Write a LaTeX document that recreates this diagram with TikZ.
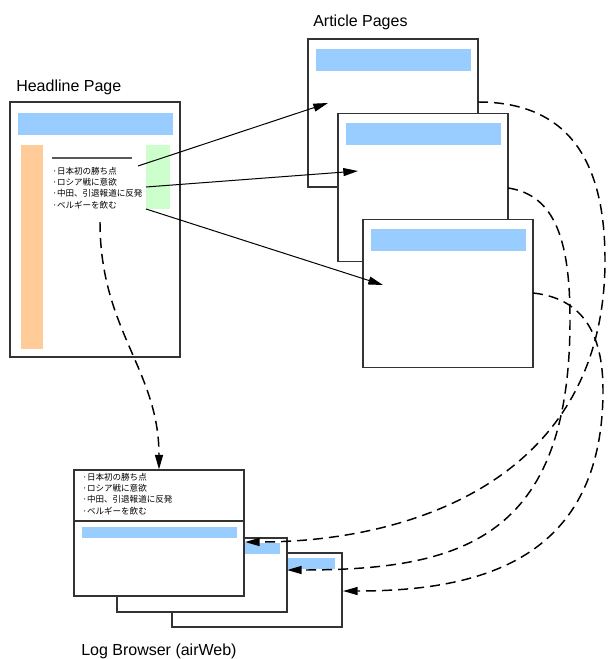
\documentclass[tikz,border=0pt]{standalone}
\usepackage{fontspec}
\setmainfont{Liberation Sans}
\newfontfamily\jpfont{Noto Sans CJK JP}
\usetikzlibrary{arrows.meta,positioning}

\definecolor{barblue}{HTML}{99CCFF}
\definecolor{barorange}{HTML}{FFCC99}
\definecolor{bargreen}{HTML}{CCFFCC}

\tikzset{
    page/.style={draw=black!80, fill=white, line width=0.8pt, inner sep=0pt, minimum width=127.5pt},
    titlebar/.style={fill=barblue, inner sep=0pt, minimum width=116.25pt},
    caption/.style={anchor=base west, inner sep=0pt, font=\fontsize{12}{14}\selectfont},
    headline/.style={anchor=west, inner sep=0pt, font=\jpfont\fontsize{6.4}{8}\selectfont},
    link/.style={-{Triangle[length=11pt,width=6pt]}, line width=0.75pt},
    backlink/.style={link, line width=1.1pt, dash pattern=on 7.5pt off 4.5pt}
}

\begin{document}
\begin{tikzpicture}[x=0.75pt, y=-0.75pt]
    \useasboundingbox (0,0) rectangle (608,659);

    % Headline page
    \node[caption] (headcap) at (16,92) {Headline Page};
    \node[page, minimum height=191.25pt] (head) at (95,229.5) {};
    \node[titlebar, minimum height=16.5pt, below=8.25pt of head.north] (headbar) {};
    \fill[barorange] (21,145) rectangle (43,349);
    \fill[bargreen] (146,145) rectangle (170,209);
    \draw[black!65, line width=1.1pt] (52,158) -- (132,158);
    \foreach \t [count=\i] in {·日本初の勝ち点, ·ロシア戦に意欲, ·中田、引退報道に反発, ·ベルギーを飲む} {
        \node[headline] (hl\i) at (52,{159.7+11.3*\i}) {\t};
    }

    % Article pages
    \node[caption] (artcap) at (313,27) {Article Pages};
    \foreach \n/\x/\y in {1/393/113, 2/423/187.5, 3/448/293.5} {
        \node[page, minimum height=111pt] (art\n) at (\x,\y) {};
        \node[titlebar, minimum height=16.5pt, below=7.5pt of art\n.north] (artbar\n) {};
    }

    % Log browser
    \node[page, minimum height=55.5pt] (log3) at (257,590) {};
    \node[titlebar, minimum height=8.25pt, below=3.75pt of log3.north] (logbar3) {};
    \node[page, minimum height=55.5pt] (log2) at (202,575) {};
    \node[titlebar, minimum height=8.25pt, below=3.75pt of log2.north] (logbar2) {};
    \node[page, minimum height=94.5pt] (log1) at (159,533) {};
    \node[titlebar, minimum height=8.25pt, below=42.75pt of log1.north] (logbar1) {};
    \draw[black!80, line width=0.8pt] (log1.west |- 0,521) -- (log1.east |- 0,521);
    \foreach \t [count=\i] in {·日本初の勝ち点, ·ロシア戦に意欲, ·中田、引退報道に反発, ·ベルギーを飲む} {
        \node[headline] (ll\i) at (82,{465.7+11.3*\i}) {\t};
    }
    \node[caption] (logcap) at (81,655) {Log Browser (airWeb)};

    % Connector ends
    \coordinate (from1) at (138,166);
    \coordinate (from2) at (146,187);
    \coordinate (from3) at (146,209);
    \coordinate (to1) at (328,103);
    \coordinate (to2) at (358,171);
    \coordinate (to3) at (383,285);
    \coordinate (out1) at (478,102);
    \coordinate (out2) at (508,188);
    \coordinate (out3) at (533,293);
    \coordinate (back1) at (245,542);
    \coordinate (back2) at (287,570);
    \coordinate (back3) at (343,591);
    \coordinate (down) at (100,222);

    % Links to the articles
    \draw[link] (from1) -- (to1);
    \draw[link] (from2) -- (to2);
    \draw[link] (from3) -- (to3);

    % Links back to the log
    \draw[backlink] (out1) .. controls (575,102) and (605,170) .. (605,260)
        .. controls (605,480) and (410,542) .. (back1);
    \draw[backlink] (out2) .. controls (555,195) and (570,240) .. (570,320)
        .. controls (570,540) and (460,570) .. (back2);
    \draw[backlink] (out3) .. controls (580,298) and (603,330) .. (603,390)
        .. controls (603,560) and (480,591) .. (back3);
    \draw[backlink] (down) .. controls (100,330) and (159,370) .. (log1.north);
\end{tikzpicture}
\end{document}
